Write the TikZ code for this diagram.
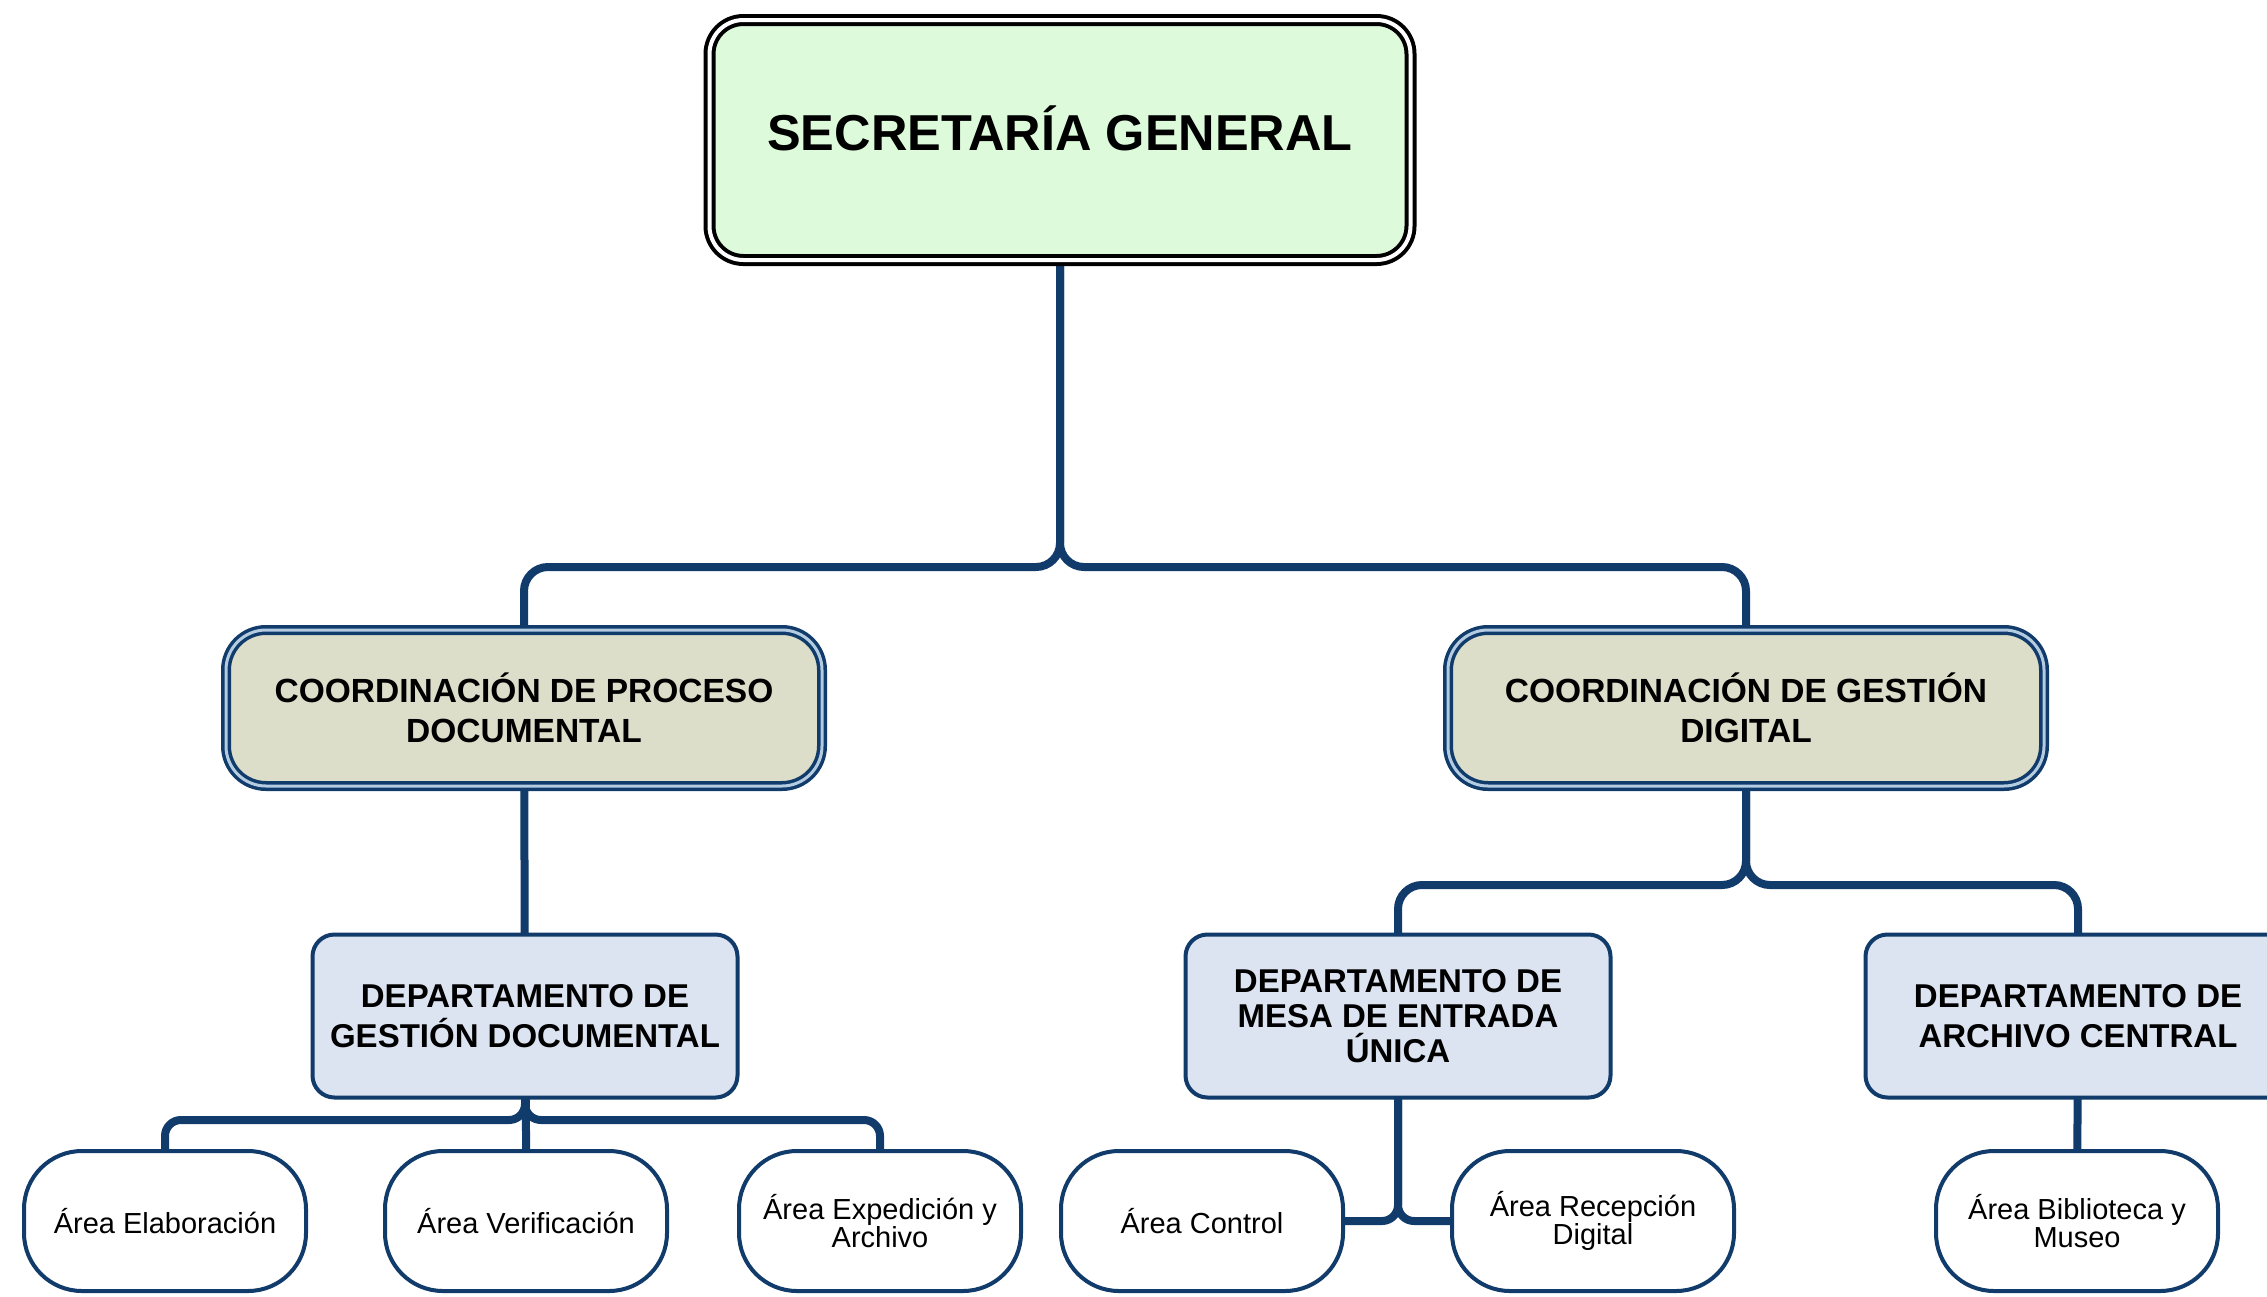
\documentclass[tikz,border=0pt]{standalone}
\usepackage{fontspec}
\setmainfont{Liberation Sans}
\usetikzlibrary{backgrounds}
\definecolor{navy}{HTML}{113B6A}
\definecolor{gapblue}{HTML}{B3CCE2}
\definecolor{topfill}{HTML}{DDFADB}
\definecolor{coordfill}{HTML}{DCDECA}
\definecolor{deptfill}{HTML}{DCE3F1}
\begin{document}
\begin{tikzpicture}[x=1pt,y=-1pt,
  topbox/.style={draw=black, line width=4pt, double=white, double distance=4pt,
    fill=topfill, rounded corners=34pt, minimum width=701pt, minimum height=240pt,
    inner sep=0pt, text height=40pt, text depth=20pt,
    font=\fontsize{50.5}{60}\selectfont\bfseries},
  coordbox/.style={draw=navy, line width=3.5pt, double=gapblue, double distance=3pt,
    fill=coordfill, rounded corners=40pt, minimum width=596pt, minimum height=156pt,
    align=center, font=\fontsize{33.5}{40.5}\selectfont\bfseries},
  deptbox/.style={draw=navy, line width=4pt, fill=deptfill, rounded corners=22pt,
    minimum width=425pt, minimum height=163pt, align=center,
    font=\fontsize{33}{40}\selectfont\bfseries},
  areabox/.style={draw=navy, line width=4pt, fill=white, rounded corners=58pt,
    minimum width=282pt, minimum height=140pt, align=center,
    font=\fontsize{29}{28}\selectfont},
  link/.style={draw=navy, line width=8pt, rounded corners=24pt},
  sublink/.style={draw=navy, line width=8pt, rounded corners=16pt}]
\useasboundingbox (0,0) rectangle (2267,1296);
\clip (0,0) rectangle (2267,1296);

\node[topbox] (top) at (1060,140) {SECRETARÍA GENERAL};

\node[coordbox] (cL) at (524,708) {COORDINACIÓN DE PROCESO\\DOCUMENTAL};
\node[coordbox] (cR) at (1746,708) {COORDINACIÓN DE GESTIÓN\\DIGITAL};

\node[deptbox] (dL) at (525,1016) {DEPARTAMENTO DE\\GESTIÓN DOCUMENTAL};
\node[deptbox, font=\fontsize{33}{35}\selectfont\bfseries] (dM) at (1398,1016) {DEPARTAMENTO DE\\MESA DE ENTRADA\\ÚNICA};
\node[deptbox] (dA) at (2078,1016) {DEPARTAMENTO DE\\ARCHIVO CENTRAL};

\node[areabox] (aEl) at (165,1221) {Área Elaboración};
\node[areabox] (aVe) at (526,1221) {Área Verificación};
\node[areabox] (aEx) at (880,1221) {Área Expedición y\\Archivo};
\node[areabox] (aCo) at (1202,1221) {Área Control};
\node[areabox] (aRe) at (1593,1221) {Área Recepción\\Digital};
\node[areabox] (aBi) at (2077,1221) {Área Biblioteca y\\Museo};

\coordinate (j1) at (1060,567);
\coordinate (j2) at (1746,885);
\coordinate (j3) at (525,1120);

\begin{scope}[on background layer]
  \fill[white] (0,0) rectangle (2267,1296);
  \draw[link] (top.center) -- (top.center |- j1) -- (cL.center |- j1) -- (cL.center);
  \draw[link] (top.center) -- (top.center |- j1) -- (cR.center |- j1) -- (cR.center);
  \draw[link] (cL.center) -- (dL.center);
  \draw[link] (cR.center) -- (cR.center |- j2) -- (dM.center |- j2) -- (dM.center);
  \draw[link] (cR.center) -- (cR.center |- j2) -- (dA.center |- j2) -- (dA.center);
  \draw[sublink] (dL.center) -- (dL.center |- j3) -- (aEl.center |- j3) -- (aEl.center);
  \draw[sublink] (dL.center) -- (aVe.center |- j3) -- (aVe.center);
  \draw[sublink] (dL.center) -- (dL.center |- j3) -- (aEx.center |- j3) -- (aEx.center);
  \draw[sublink] (dM.center) -- (dM.center |- aCo.center) -- (aCo.center);
  \draw[sublink] (dM.center) -- (dM.center |- aRe.center) -- (aRe.center);
  \draw[sublink] (dA.center) -- (aBi.center);
\end{scope}
\end{tikzpicture}
\end{document}
